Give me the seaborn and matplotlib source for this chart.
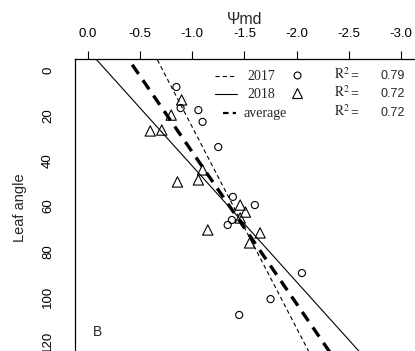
import matplotlib
matplotlib.use("Agg")
import matplotlib.pyplot as plt
from matplotlib.lines import Line2D
import numpy as np
import pandas as pd
import seaborn as sns

# %%
# points (Psi_md, leaf angle)
psi_2017 = [-0.85, -0.89, -1.06, -1.10, -1.25, -1.39, -1.60, -1.38, -1.34, -2.05, -1.75, -1.45]
angle_2017 = [7.5, 16.8, 17.7, 22.9, 34.0, 56.0, 59.6, 66.2, 68.4, 89.6, 101.1, 108.1]

psi_2018 = [-0.90, -0.80, -0.60, -0.71, -1.10, -0.86, -1.06, -1.46, -1.51, -1.46, -1.15, -1.65, -1.55]
angle_2018 = [13.2, 19.9, 26.9, 26.5, 44.1, 49.4, 48.5, 59.6, 62.7, 65.3, 70.6, 71.9, 76.3]

# regression lines: leaf angle = intercept + slope * psi
fit_names = ["2017", "2018", "average"]
fit_intercept = [-63.9, -9.0, -31.05]
fit_slope = [-88.95, -51.28, -67.14]
fit_r2 = ["0.79", "0.72", "0.72"]

x_ticks = [0.0, -0.5, -1.0, -1.5, -2.0, -2.5, -3.0]
y_ticks = [0, 20, 40, 60, 80, 100, 120]

# %%
sns.set_style("white")
plt.rcParams["font.family"] = ["Liberation Sans", "DejaVu Sans"]
plt.rcParams["lines.scale_dashes"] = False
plt.rcParams["mathtext.fontset"] = "stix"

W, H = 415, 351
fig = plt.figure(figsize=(W / 100, H / 100), dpi=100)

# axes box runs past the right and bottom edge (the picture is cropped)
left_px, top_px, right_px, bottom_px = 75, 59, 500, 400
ax = fig.add_axes([left_px / W, 1 - bottom_px / H,
                   (right_px - left_px) / W, (bottom_px - top_px) / H])

x0_px, x_scale = 87.5, 104.6   # px at psi=0, px per unit
y0_px, y_scale = 70.0, 2.266   # px at angle=0, px per unit
ax.set_xlim(-(left_px - x0_px) / x_scale, -(right_px - x0_px) / x_scale)
ax.set_ylim((bottom_px - y0_px) / y_scale, (top_px - y0_px) / y_scale)

df17 = pd.DataFrame({"psi": psi_2017, "angle": angle_2017})
df18 = pd.DataFrame({"psi": psi_2018, "angle": angle_2018})

sns.scatterplot(data=df17, x="psi", y="angle", marker="o", s=26,
                facecolor="none", edgecolor="black", linewidth=0.8, ax=ax, zorder=3)
sns.scatterplot(data=df18, x="psi", y="angle", marker="^", s=55,
                facecolor="none", edgecolor="black", linewidth=0.8, ax=ax, zorder=3)

styles = {
    "2017": dict(lw=0.8, linestyle=(0, (3, 2.2))),
    "2018": dict(lw=0.8, linestyle="-"),
    "average": dict(lw=2.4, linestyle=(0, (8, 5.5))),
}
xs = np.array(ax.get_xlim())
for name, a, b in zip(fit_names, fit_intercept, fit_slope):
    sns.lineplot(x=xs, y=a + b * xs, color="black", ax=ax, **styles[name])

# axes styling
ax.xaxis.tick_top()
ax.set_xticks(x_ticks)
ax.set_xticklabels([f"{v:.1f}" for v in x_ticks])
ax.set_yticks(y_ticks)
ax.set_yticklabels([str(v) for v in y_ticks], rotation=90, va="center")
ax.tick_params(axis="x", direction="out", length=6, width=0.8, pad=8,
               labelsize=9.5, colors="black", top=True, bottom=False)
ax.tick_params(axis="y", direction="out", length=6, width=0.8, pad=9,
               labelsize=9.5, colors="black")
ax.set_xlabel("")
ax.set_ylabel("")
for sp in ax.spines.values():
    sp.set_color("black")
    sp.set_linewidth(0.9)

# panel letter
ax.text(-(97 - x0_px) / x_scale, (332 - y0_px) / y_scale, "B",
        fontsize=10, ha="center", va="center")

# titles in figure coords
fig.text(245 / W, 1 - 20 / H, "Ψmd", fontsize=11.5, ha="center", va="center")
fig.text(20 / W, 1 - 208 / H, "Leaf angle", fontsize=10.5, rotation=90,
         ha="center", va="center")

# legend drawn by hand (three columns like the original)
def fx(px):
    return px / W

def fy(py):
    return 1 - py / H

rows_y = [76, 94, 113]
leg_lines = [
    ([215, 236], dict(lw=0.8, linestyle=(0, (3, 2.2)))),
    ([215, 237], dict(lw=0.8, linestyle="-")),
    ([223, 236], dict(lw=1.6, linestyle=(0, (4, 3)))),
]
for (xr, st), yy, name, r2 in zip(leg_lines, rows_y, fit_names, fit_r2):
    fig.add_artist(Line2D([fx(xr[0]), fx(xr[1])], [fy(yy), fy(yy)],
                          color="black", transform=fig.transFigure, **st))
    tx = 243 if name == "average" else 247
    fig.text(fx(tx), fy(yy), name, family=["Liberation Serif", "DejaVu Serif"],
             fontsize=10, ha="left", va="center")
    fig.text(fx(334), fy(yy) + 0.004, r"$\mathrm{R}^{2}$", fontsize=10,
             ha="left", va="center")
    fig.text(fx(350), fy(yy), "=", family=["Liberation Serif", "DejaVu Serif"],
             fontsize=10, fontweight="bold", ha="left", va="center")
    fig.text(fx(380), fy(yy), r2, fontsize=9, ha="left", va="center")

fig.add_artist(Line2D([fx(297)], [fy(75)], marker="o", markersize=5,
                      mfc="none", mec="black", mew=0.8, transform=fig.transFigure))
fig.add_artist(Line2D([fx(297)], [fy(93)], marker="^", markersize=7.5,
                      mfc="none", mec="black", mew=0.8, transform=fig.transFigure))

fig.savefig("out.png", dpi=100)
